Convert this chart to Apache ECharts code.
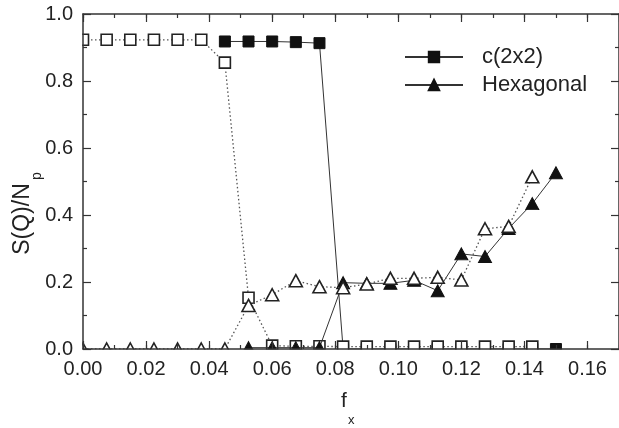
<!DOCTYPE html>
<html>
<head>
<meta charset="utf-8">
<script src="https://cdn.jsdelivr.net/npm/echarts@6/dist/echarts.min.js"></script>
<style>
  html, body { margin: 0; padding: 0; background: #fff; }
  #chart { width: 619px; height: 428px; }
</style>
</head>
<body>
<div id="chart"></div>
<script>
// Drive fraction f_x for every sampled run
const fx = [0, 0.0075, 0.015, 0.0225, 0.03, 0.0375, 0.045, 0.0525, 0.06, 0.0675, 0.075,
            0.0825, 0.09, 0.0975, 0.105, 0.1125, 0.12, 0.1275, 0.135, 0.1425, 0.15];

// Structure factor peak S(Q)/N_p for the c(2x2) ordering
const c2x2Solid = [null, null, null, null, null, null, 0.918, 0.918, 0.918, 0.916, 0.913,
                   0.0, 0.0, 0.0, 0.0, 0.0, 0.0, 0.0, 0.0, 0.0, 0.0];
const c2x2Open  = [0.923, 0.923, 0.923, 0.923, 0.923, 0.923, 0.855, 0.153, 0.01, 0.008, 0.008,
                   0.007, 0.007, 0.007, 0.007, 0.007, 0.007, 0.007, 0.007, 0.007, null];

// Structure factor peak S(Q)/N_p for the hexagonal ordering
const hexSolid = [null, null, null, null, null, null, null, 0.004, 0.004, 0.004, 0.004,
                  0.198, 0.196, 0.196, 0.205, 0.174, 0.284, 0.276, 0.36, 0.434, 0.526];
const hexOpen  = [0, 0, 0, 0, 0, 0, 0, 0.13, 0.162, 0.204, 0.186,
                  0.183, 0.194, 0.211, 0.211, 0.214, 0.206, 0.359, 0.366, 0.514, null];

// Axis ranges and tick steps
const xRange = [0, 0.17];
const xMajorStep = 0.02;
const xMinorStep = 0.01;
const yRange = [0, 1.0];
const yMajorStep = 0.2;

const seriesNames = ['c(2x2)', 'Hexagonal'];

const FONT = '"Liberation Sans", Arial, Helvetica, sans-serif';
const INK = '#222';
const AXIS = '#333';

function pairs(vals) {
  const out = [];
  vals.forEach((v, i) => { if (v !== null) out.push([fx[i], v]); });
  return out;
}

const axisLineStyle = { color: AXIS, width: 1.5 };

function xAxisDef(position, step, tickLen, withLabels, showLine) {
  return {
    type: 'value', position: position, min: xRange[0], max: xRange[1], interval: step,
    z: 10,
    axisLine: { show: showLine, onZero: false, lineStyle: axisLineStyle },
    axisTick: { show: true, inside: true, length: tickLen, lineStyle: { color: AXIS, width: 1.2 } },
    axisLabel: withLabels ? {
      show: true, margin: 10, fontSize: 20, fontFamily: FONT, color: INK,
      showMaxLabel: false, formatter: v => v.toFixed(2)
    } : { show: false },
    splitLine: { show: false }
  };
}

function yAxisDef(position, withLabels) {
  return {
    type: 'value', position: position, min: yRange[0], max: yRange[1], interval: yMajorStep,
    z: 10,
    axisLine: { show: true, onZero: false, lineStyle: axisLineStyle },
    axisTick: { show: true, inside: true, length: 8, lineStyle: { color: AXIS, width: 1.2 } },
    minorTick: { show: true, splitNumber: 2, length: 4, lineStyle: { color: AXIS, width: 1.2 } },
    axisLabel: withLabels ? {
      show: true, margin: 10, fontSize: 20, fontFamily: FONT, color: INK,
      formatter: v => v.toFixed(1)
    } : { show: false },
    splitLine: { show: false }
  };
}

const solidLine = { color: '#333', width: 1, type: 'solid' };
const dotLine = { color: '#555', width: 1.3, type: [1.5, 2.5] };

const chart = echarts.init(document.getElementById('chart'), null, { renderer: 'canvas' });

chart.setOption({
  animation: false,
  backgroundColor: '#fff',
  grid: { left: 83, top: 14, right: -3, bottom: 79, containLabel: false },
  xAxis: [
    xAxisDef('bottom', xMajorStep, 8, true, true),
    xAxisDef('bottom', xMinorStep, 4, false, false),
    xAxisDef('top', xMajorStep, 8, false, true),
    xAxisDef('top', xMinorStep, 4, false, false)
  ],
  yAxis: [yAxisDef('left', true), yAxisDef('right', false)],
  legend: {
    orient: 'vertical', left: 399, top: 41,
    itemWidth: 58, itemHeight: 13, itemGap: 6,
    data: seriesNames,
    textStyle: { fontSize: 22, fontFamily: FONT, color: INK, padding: [0, 0, 0, 14] }
  },
  series: [
    {
      name: seriesNames[0], type: 'line', z: 2, data: pairs(c2x2Solid),
      symbol: 'rect', symbolSize: 11,
      itemStyle: { color: '#111', borderColor: '#111', borderWidth: 1 },
      lineStyle: solidLine
    },
    {
      name: seriesNames[0], type: 'line', z: 3, data: pairs(c2x2Open),
      symbol: 'rect', symbolSize: 11,
      itemStyle: { color: '#fff', borderColor: '#222', borderWidth: 1.6 },
      lineStyle: dotLine
    },
    {
      name: seriesNames[1], type: 'line', z: 4, data: pairs(hexSolid),
      symbol: 'triangle', symbolSize: [13, 12],
      itemStyle: { color: '#111', borderColor: '#111', borderWidth: 1 },
      lineStyle: solidLine
    },
    {
      name: seriesNames[1], type: 'line', z: 5, data: pairs(hexOpen),
      symbol: 'triangle', symbolSize: [13, 12],
      itemStyle: { color: '#fff', borderColor: '#222', borderWidth: 1.6 },
      lineStyle: dotLine
    }
  ],
  graphic: {
    elements: [
      // masks that trim markers sitting on the frame, as the plot frame clips them
      { type: 'rect', z: 6, silent: true, shape: { x: 74, y: 349.6, width: 560, height: 8 }, style: { fill: '#fff' } },
      { type: 'rect', z: 6, silent: true, shape: { x: 74, y: 4, width: 8.3, height: 354 }, style: { fill: '#fff' } },
      // axis titles
      { type: 'text', z: 12, x: 341, y: 401, style: { text: 'f', fontSize: 21, fontFamily: FONT, fill: INK, align: 'left', verticalAlign: 'middle' } },
      { type: 'text', z: 12, x: 348, y: 420, style: { text: 'x', fontSize: 13, fontFamily: FONT, fill: INK, align: 'left', verticalAlign: 'middle' } },
      { type: 'text', z: 12, x: 23, y: 219, rotation: Math.PI / 2, style: { text: 'S(Q)/N', fontSize: 23, fontFamily: FONT, fill: INK, align: 'center', verticalAlign: 'middle' } },
      { type: 'text', z: 12, x: 37, y: 176, rotation: Math.PI / 2, style: { text: 'p', fontSize: 14, fontFamily: FONT, fill: INK, align: 'center', verticalAlign: 'middle' } }
    ]
  }
});
</script>
</body>
</html>
